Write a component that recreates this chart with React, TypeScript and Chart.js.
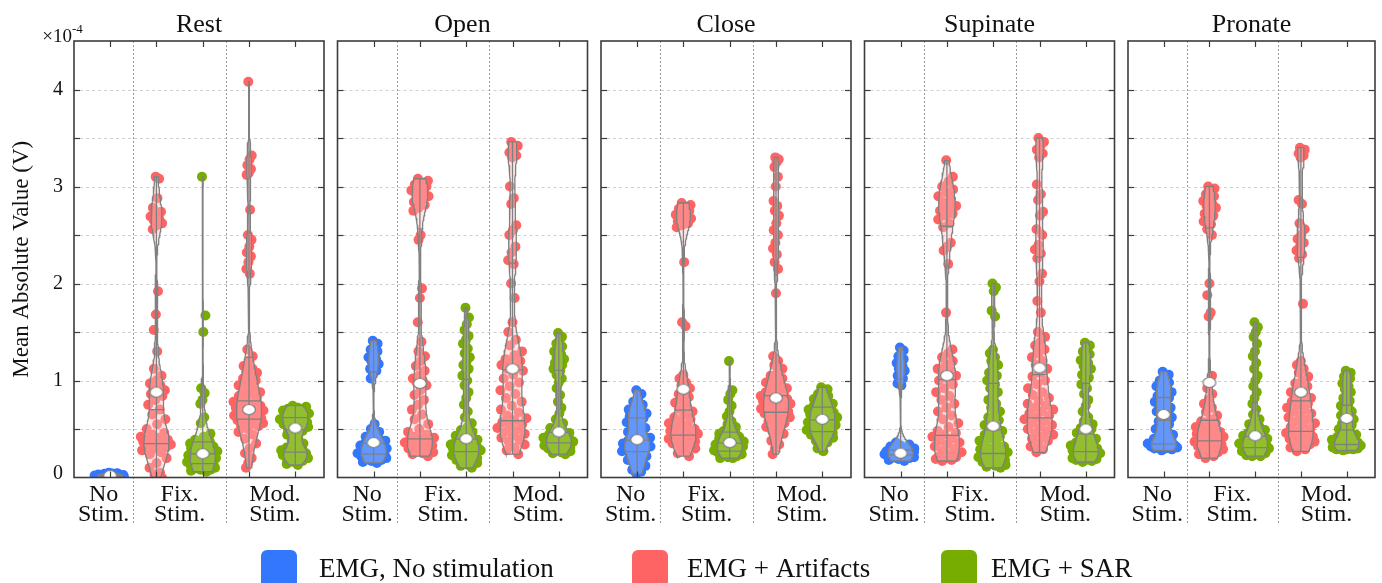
import React, { useEffect, useRef } from 'react';
import { Chart, registerables } from 'chart.js';

Chart.register(...registerables);

// ---------------- data (Mean Absolute Value, in units of 1e-4 V) ----------------
const gestures = ['Rest', 'Open', 'Close', 'Supinate', 'Pronate'];
const conditionLabels = [['No', 'Stim.'], ['Fix.', 'Stim.'], ['Mod.', 'Stim.']];
const seriesLabels = ['EMG, No stimulation', 'EMG + Artifacts', 'EMG + SAR'];
const yTickValues = [0, 1, 2, 3, 4];
const yTickLabels = ['0', '1', '2', '3', '4'];
const groupPositions = [1, 2, 3, 4, 5];
const groupSeries = [0, 1, 2, 1, 2];

const restNoStim = [0.05, 0.045, 0.04, 0.038, 0.035, 0.033, 0.03, 0.03, 0.028, 0.026, 0.025, 0.024, 0.022, 0.021, 0.02, 0.02, 0.019, 0.018, 0.016, 0.015, 0.014, 0.012, 0.011, 0.01, 0.009, 0.008, 0.006, 0.005, 0.003, 0.001];
const restFixArtifacts = [3.1, 3.08, 2.88, 2.78, 2.74, 2.71, 2.69, 2.67, 2.65, 2.62, 2.6, 2.56, 1.92, 1.68, 1.52, 1.3, 1.12, 1.05, 1.0, 0.97, 0.95, 0.92, 0.9, 0.88, 0.86, 0.84, 0.8, 0.75, 0.7, 0.65, 0.6, 0.55, 0.5, 0.46, 0.44, 0.42, 0.41, 0.4, 0.39, 0.38, 0.37, 0.36, 0.35, 0.34, 0.33, 0.32, 0.31, 0.3, 0.28, 0.26, 0.24, 0.2, 0.15, 0.1, 0.05, 0.03, 0.0];
const restFixSAR = [3.1, 1.67, 1.5, 0.92, 0.87, 0.8, 0.76, 0.62, 0.56, 0.45, 0.42, 0.39, 0.37, 0.36, 0.35, 0.34, 0.33, 0.32, 0.31, 0.3, 0.29, 0.28, 0.27, 0.26, 0.25, 0.24, 0.24, 0.23, 0.22, 0.21, 0.2, 0.19, 0.18, 0.17, 0.16, 0.16, 0.15, 0.14, 0.14, 0.13, 0.12, 0.12, 0.11, 0.1, 0.1, 0.09, 0.08, 0.08, 0.07, 0.06];
const restModArtifacts = [4.08, 3.32, 3.28, 3.22, 3.18, 3.14, 3.12, 2.76, 2.5, 2.45, 2.38, 2.32, 2.28, 2.22, 2.15, 2.1, 1.32, 1.25, 1.2, 1.15, 1.12, 1.1, 1.08, 1.05, 1.02, 1.0, 0.98, 0.95, 0.92, 0.9, 0.88, 0.86, 0.84, 0.82, 0.8, 0.78, 0.76, 0.75, 0.74, 0.73, 0.72, 0.71, 0.7, 0.69, 0.68, 0.67, 0.66, 0.65, 0.64, 0.63, 0.62, 0.61, 0.6, 0.59, 0.58, 0.57, 0.56, 0.55, 0.54, 0.53, 0.5, 0.47, 0.44, 0.4, 0.35, 0.3, 0.25, 0.2, 0.15, 0.1];
const restModSAR = [0.74, 0.73, 0.72, 0.71, 0.7, 0.7, 0.69, 0.68, 0.67, 0.66, 0.65, 0.64, 0.62, 0.61, 0.6, 0.59, 0.58, 0.57, 0.56, 0.55, 0.54, 0.53, 0.52, 0.51, 0.5, 0.48, 0.46, 0.44, 0.41, 0.38, 0.35, 0.33, 0.31, 0.3, 0.29, 0.28, 0.27, 0.26, 0.25, 0.24, 0.23, 0.22, 0.21, 0.2, 0.19, 0.18, 0.17, 0.16, 0.14, 0.13];
const restMarkers = [0.02, 0.88, 0.245, 0.7, 0.51];

const openNoStim = [1.41, 1.38, 1.35, 1.32, 1.3, 1.27, 1.24, 1.22, 1.2, 1.17, 1.14, 1.12, 1.1, 1.06, 1.02, 0.55, 0.5, 0.47, 0.44, 0.42, 0.4, 0.39, 0.38, 0.37, 0.36, 0.35, 0.34, 0.33, 0.32, 0.31, 0.3, 0.29, 0.28, 0.27, 0.26, 0.25, 0.24, 0.24, 0.23, 0.22, 0.22, 0.21, 0.2, 0.2, 0.19, 0.18, 0.18, 0.17, 0.16, 0.15];
const openFixArtifacts = [3.08, 3.06, 3.04, 3.02, 3.0, 2.98, 2.96, 2.94, 2.92, 2.9, 2.87, 2.84, 2.81, 2.78, 2.75, 2.5, 2.45, 1.95, 1.85, 1.6, 1.4, 1.3, 1.25, 1.2, 1.15, 1.1, 1.05, 1.02, 1.0, 0.98, 0.95, 0.9, 0.85, 0.8, 0.75, 0.7, 0.65, 0.6, 0.55, 0.5, 0.47, 0.44, 0.42, 0.41, 0.4, 0.39, 0.38, 0.37, 0.36, 0.35, 0.34, 0.33, 0.32, 0.3, 0.29, 0.28, 0.26, 0.25, 0.24, 0.22];
const openFixSAR = [1.75, 1.65, 1.58, 1.52, 1.46, 1.42, 1.38, 1.33, 1.28, 1.24, 1.2, 1.16, 1.12, 1.08, 1.05, 1.0, 0.95, 0.88, 0.82, 0.75, 0.68, 0.62, 0.56, 0.52, 0.49, 0.47, 0.45, 0.43, 0.42, 0.4, 0.39, 0.38, 0.37, 0.36, 0.35, 0.34, 0.33, 0.32, 0.31, 0.3, 0.3, 0.29, 0.28, 0.28, 0.27, 0.26, 0.25, 0.24, 0.23, 0.22, 0.21, 0.2, 0.19, 0.18, 0.17, 0.16, 0.15, 0.13, 0.12, 0.1];
const openModArtifacts = [3.46, 3.42, 3.38, 3.35, 3.32, 3.3, 3.0, 2.88, 2.82, 2.6, 2.55, 2.5, 2.38, 2.32, 2.24, 2.2, 2.0, 1.85, 1.6, 1.5, 1.42, 1.36, 1.3, 1.26, 1.22, 1.2, 1.18, 1.16, 1.14, 1.12, 1.1, 1.06, 1.02, 0.98, 0.94, 0.9, 0.86, 0.82, 0.78, 0.74, 0.7, 0.67, 0.64, 0.61, 0.59, 0.57, 0.55, 0.53, 0.51, 0.49, 0.47, 0.45, 0.43, 0.41, 0.39, 0.37, 0.34, 0.31, 0.28, 0.24];
const openModSAR = [1.49, 1.45, 1.42, 1.38, 1.35, 1.32, 1.3, 1.27, 1.24, 1.22, 1.2, 1.18, 1.16, 1.14, 1.12, 1.1, 1.06, 1.02, 0.98, 0.92, 0.85, 0.78, 0.72, 0.66, 0.6, 0.56, 0.53, 0.51, 0.49, 0.47, 0.46, 0.45, 0.44, 0.43, 0.42, 0.41, 0.41, 0.4, 0.39, 0.39, 0.38, 0.38, 0.37, 0.37, 0.36, 0.35, 0.34, 0.34, 0.33, 0.32, 0.32, 0.31, 0.3, 0.3, 0.29, 0.28, 0.27, 0.26, 0.25, 0.24];
const openMarkers = [0.36, 0.97, 0.4, 1.12, 0.47];

const closeNoStim = [0.9, 0.86, 0.82, 0.78, 0.75, 0.72, 0.7, 0.68, 0.67, 0.66, 0.65, 0.63, 0.61, 0.59, 0.57, 0.55, 0.53, 0.51, 0.49, 0.47, 0.45, 0.43, 0.41, 0.39, 0.38, 0.37, 0.36, 0.35, 0.34, 0.33, 0.32, 0.31, 0.3, 0.29, 0.28, 0.27, 0.26, 0.24, 0.22, 0.2, 0.18, 0.16, 0.14, 0.12, 0.1, 0.08, 0.06, 0.04];
const closeFixArtifacts = [2.83, 2.81, 2.79, 2.77, 2.75, 2.73, 2.71, 2.7, 2.68, 2.67, 2.65, 2.64, 2.62, 2.6, 2.58, 2.22, 1.6, 1.56, 1.06, 1.02, 0.98, 0.95, 0.92, 0.89, 0.86, 0.83, 0.8, 0.77, 0.74, 0.71, 0.68, 0.65, 0.62, 0.6, 0.58, 0.56, 0.54, 0.52, 0.5, 0.49, 0.48, 0.47, 0.46, 0.45, 0.44, 0.43, 0.42, 0.41, 0.4, 0.39, 0.38, 0.37, 0.36, 0.35, 0.34, 0.32, 0.3, 0.28, 0.25, 0.22];
const closeFixSAR = [1.2, 0.9, 0.86, 0.8, 0.74, 0.68, 0.63, 0.58, 0.55, 0.52, 0.5, 0.48, 0.47, 0.46, 0.45, 0.44, 0.43, 0.42, 0.41, 0.4, 0.39, 0.38, 0.37, 0.36, 0.36, 0.35, 0.34, 0.34, 0.33, 0.32, 0.32, 0.31, 0.3, 0.3, 0.29, 0.28, 0.28, 0.27, 0.27, 0.26, 0.26, 0.25, 0.25, 0.24, 0.24, 0.23, 0.22, 0.21, 0.2, 0.2];
const closeModArtifacts = [3.3, 3.28, 3.25, 3.2, 3.1, 3.0, 2.85, 2.8, 2.75, 2.7, 2.62, 2.55, 2.5, 2.42, 2.36, 2.3, 2.22, 2.15, 1.9, 1.25, 1.2, 1.16, 1.12, 1.08, 1.05, 1.02, 1.0, 0.98, 0.96, 0.94, 0.92, 0.9, 0.88, 0.86, 0.85, 0.84, 0.83, 0.82, 0.81, 0.8, 0.79, 0.78, 0.77, 0.76, 0.75, 0.74, 0.73, 0.72, 0.71, 0.7, 0.69, 0.68, 0.67, 0.66, 0.65, 0.64, 0.62, 0.6, 0.58, 0.56, 0.54, 0.52, 0.5, 0.48, 0.45, 0.42, 0.38, 0.34, 0.3, 0.24];
const closeModSAR = [0.93, 0.91, 0.89, 0.86, 0.84, 0.82, 0.81, 0.79, 0.77, 0.76, 0.75, 0.74, 0.73, 0.71, 0.7, 0.69, 0.68, 0.67, 0.66, 0.65, 0.64, 0.63, 0.62, 0.61, 0.6, 0.59, 0.58, 0.57, 0.56, 0.55, 0.54, 0.53, 0.52, 0.51, 0.5, 0.49, 0.48, 0.47, 0.46, 0.45, 0.44, 0.43, 0.42, 0.41, 0.4, 0.38, 0.36, 0.33, 0.3, 0.27];
const closeMarkers = [0.39, 0.91, 0.36, 0.82, 0.6];

const supinateNoStim = [1.34, 1.31, 1.28, 1.25, 1.22, 1.2, 1.18, 1.15, 1.12, 1.1, 1.08, 1.05, 1.02, 1.0, 0.97, 0.95, 0.36, 0.34, 0.33, 0.32, 0.31, 0.3, 0.3, 0.29, 0.29, 0.28, 0.28, 0.27, 0.27, 0.26, 0.26, 0.25, 0.25, 0.25, 0.24, 0.24, 0.24, 0.23, 0.23, 0.23, 0.22, 0.22, 0.22, 0.21, 0.21, 0.2, 0.2, 0.19, 0.18, 0.17];
const supinateFixArtifacts = [3.27, 3.1, 3.05, 3.0, 2.97, 2.94, 2.9, 2.87, 2.84, 2.8, 2.78, 2.75, 2.72, 2.7, 2.66, 2.62, 2.58, 2.42, 2.38, 2.34, 2.2, 1.7, 1.32, 1.28, 1.24, 1.2, 1.16, 1.12, 1.1, 1.08, 1.05, 1.02, 1.0, 0.96, 0.92, 0.88, 0.84, 0.8, 0.76, 0.72, 0.68, 0.64, 0.6, 0.56, 0.52, 0.48, 0.46, 0.44, 0.42, 0.4, 0.38, 0.36, 0.34, 0.32, 0.3, 0.28, 0.26, 0.24, 0.22, 0.21, 0.2, 0.19, 0.18, 0.17];
const supinateFixSAR = [2.0, 1.96, 1.92, 1.72, 1.66, 1.32, 1.28, 1.24, 1.2, 1.16, 1.12, 1.08, 1.05, 1.02, 1.0, 0.96, 0.92, 0.88, 0.84, 0.8, 0.76, 0.72, 0.68, 0.65, 0.62, 0.59, 0.56, 0.54, 0.52, 0.5, 0.48, 0.46, 0.44, 0.42, 0.4, 0.38, 0.36, 0.34, 0.32, 0.3, 0.29, 0.28, 0.27, 0.26, 0.25, 0.24, 0.23, 0.22, 0.21, 0.2, 0.19, 0.18, 0.17, 0.16, 0.15, 0.14, 0.13, 0.12, 0.11, 0.1];
const supinateModArtifacts = [3.5, 3.46, 3.42, 3.38, 3.34, 3.3, 3.02, 2.92, 2.86, 2.74, 2.7, 2.56, 2.5, 2.4, 2.35, 2.31, 2.26, 2.1, 2.02, 1.82, 1.7, 1.5, 1.45, 1.4, 1.36, 1.32, 1.28, 1.24, 1.2, 1.16, 1.12, 1.08, 1.04, 1.0, 0.96, 0.92, 0.88, 0.85, 0.82, 0.79, 0.76, 0.74, 0.72, 0.7, 0.68, 0.66, 0.64, 0.62, 0.6, 0.58, 0.56, 0.54, 0.52, 0.5, 0.48, 0.46, 0.44, 0.42, 0.4, 0.38, 0.35, 0.32, 0.29, 0.26];
const supinateModSAR = [1.39, 1.36, 1.33, 1.3, 1.27, 1.24, 1.21, 1.18, 1.15, 1.12, 1.09, 1.06, 1.03, 1.0, 0.96, 0.92, 0.86, 0.8, 0.74, 0.68, 0.62, 0.58, 0.55, 0.53, 0.51, 0.5, 0.48, 0.46, 0.44, 0.42, 0.4, 0.38, 0.36, 0.35, 0.34, 0.33, 0.32, 0.31, 0.3, 0.29, 0.28, 0.27, 0.26, 0.25, 0.24, 0.23, 0.22, 0.21, 0.2, 0.2, 0.19, 0.19, 0.18, 0.18, 0.17, 0.16];
const supinateMarkers = [0.25, 1.05, 0.53, 1.13, 0.5];

const pronateNoStim = [1.09, 1.06, 1.03, 1.0, 0.98, 0.96, 0.94, 0.92, 0.9, 0.88, 0.86, 0.84, 0.82, 0.8, 0.78, 0.76, 0.74, 0.72, 0.7, 0.68, 0.66, 0.64, 0.62, 0.6, 0.58, 0.55, 0.52, 0.5, 0.48, 0.46, 0.44, 0.42, 0.4, 0.38, 0.36, 0.35, 0.34, 0.34, 0.33, 0.33, 0.32, 0.32, 0.31, 0.31, 0.3, 0.3, 0.29, 0.28];
const pronateFixArtifacts = [3.0, 2.98, 2.95, 2.92, 2.9, 2.88, 2.85, 2.82, 2.8, 2.78, 2.75, 2.72, 2.7, 2.67, 2.64, 2.61, 2.56, 2.5, 2.0, 1.88, 1.7, 1.66, 1.05, 0.98, 0.92, 0.86, 0.8, 0.76, 0.72, 0.68, 0.64, 0.6, 0.58, 0.56, 0.54, 0.52, 0.5, 0.48, 0.47, 0.46, 0.45, 0.44, 0.43, 0.42, 0.41, 0.4, 0.39, 0.38, 0.37, 0.36, 0.35, 0.34, 0.33, 0.32, 0.31, 0.3, 0.29, 0.28, 0.27, 0.26, 0.25, 0.24, 0.22, 0.2];
const pronateFixSAR = [1.6, 1.55, 1.5, 1.45, 1.38, 1.3, 1.25, 1.18, 1.12, 1.05, 1.0, 0.94, 0.88, 0.82, 0.76, 0.7, 0.65, 0.6, 0.57, 0.55, 0.53, 0.51, 0.49, 0.47, 0.46, 0.45, 0.44, 0.43, 0.42, 0.41, 0.4, 0.39, 0.38, 0.37, 0.36, 0.35, 0.34, 0.33, 0.33, 0.32, 0.32, 0.31, 0.3, 0.3, 0.29, 0.29, 0.28, 0.28, 0.27, 0.27, 0.26, 0.25, 0.24, 0.23, 0.22, 0.22];
const pronateModArtifacts = [3.4, 3.38, 3.36, 3.34, 3.32, 3.3, 2.86, 2.82, 2.62, 2.56, 2.5, 2.46, 2.42, 2.38, 2.34, 2.3, 2.26, 1.79, 1.2, 1.16, 1.12, 1.08, 1.04, 1.0, 0.97, 0.94, 0.91, 0.88, 0.86, 0.84, 0.82, 0.8, 0.78, 0.76, 0.74, 0.72, 0.7, 0.68, 0.66, 0.64, 0.62, 0.6, 0.58, 0.56, 0.54, 0.52, 0.5, 0.48, 0.46, 0.44, 0.43, 0.42, 0.41, 0.4, 0.39, 0.38, 0.37, 0.36, 0.35, 0.34, 0.33, 0.31, 0.29, 0.27];
const pronateModSAR = [1.1, 1.08, 1.06, 1.04, 1.02, 1.0, 0.97, 0.94, 0.91, 0.88, 0.85, 0.82, 0.79, 0.76, 0.74, 0.72, 0.7, 0.68, 0.66, 0.64, 0.62, 0.61, 0.6, 0.58, 0.56, 0.54, 0.52, 0.5, 0.48, 0.46, 0.44, 0.43, 0.42, 0.41, 0.4, 0.39, 0.38, 0.37, 0.36, 0.35, 0.35, 0.34, 0.34, 0.33, 0.33, 0.32, 0.32, 0.31, 0.31, 0.3, 0.3, 0.3, 0.29, 0.29, 0.29, 0.28];
const pronateMarkers = [0.65, 0.98, 0.43, 0.88, 0.61];

const panelGroups = [
  [restNoStim, restFixArtifacts, restFixSAR, restModArtifacts, restModSAR],
  [openNoStim, openFixArtifacts, openFixSAR, openModArtifacts, openModSAR],
  [closeNoStim, closeFixArtifacts, closeFixSAR, closeModArtifacts, closeModSAR],
  [supinateNoStim, supinateFixArtifacts, supinateFixSAR, supinateModArtifacts, supinateModSAR],
  [pronateNoStim, pronateFixArtifacts, pronateFixSAR, pronateModArtifacts, pronateModSAR],
];
const panelMarkers = [restMarkers, openMarkers, closeMarkers, supinateMarkers, pronateMarkers];

// ---------------- layout & style ----------------
const W = 1382;
const H = 583;
const PANEL_LEFT0 = 74;
const PANEL_STEP = 263.5;
const PANEL_W = 250;
const PLOT_TOP = 41;
const PLOT_BOTTOM = 477.5;
const X_MIN = 0.22;
const X_MAX = 5.62;
const Y_MIN = 0;
const Y_MAX = 4.5;
const GRID_STEP = 0.5;
const SEPARATORS = [1.5, 3.5];
const LABEL_CENTERS = [0.86, 2.5, 4.56];
const SEP_BOTTOM = 525;
const FONT = '"Liberation Serif", "Times New Roman", serif';
const SERIES_COLORS = ['#3377FF', '#FF6464', '#77AC00'];
const VIOLIN_FILLS = ['rgba(170,200,255,0.4)', 'rgba(255,190,190,0.4)', 'rgba(205,232,150,0.32)'];
const LINE_GRAY = '#808080';
const FRAME_COLOR = '#3c3c3c';
const GRID_COLOR = '#cfcfcf';
const SEP_COLOR = '#9a9a9a';
const VIOLIN_HALF = 0.27;
const BW_COEF = 0.085;
const POINT_SPREAD = 1.3;
const POINT_MIN_SPREAD = 0.06;
const POINT_RADIUS = 5;
const TICK_LEN = 6;
const LEGEND_SQUARES = [261, 632, 941];
const LEGEND_TEXT_X = [319, 687, 991];

// ---------------- helpers ----------------
function quantile(sorted: number[], q: number) {
  const pos = (sorted.length - 1) * q;
  const lo = Math.floor(pos);
  const hi = Math.ceil(pos);
  return sorted[lo] + (sorted[hi] - sorted[lo]) * (pos - lo);
}

function makeDensity(values: number[]) {
  const min = Math.min(...values);
  const max = Math.max(...values);
  const range = Math.max(max - min, 1e-3);
  const h = BW_COEF * Math.pow(range, 0.6);
  const raw = (y: number) => {
    let s = 0;
    for (const v of values) {
      const z = (y - v) / h;
      s += Math.exp(-0.5 * z * z);
    }
    return s;
  };
  const N = 120;
  const ys: number[] = [];
  for (let j = 0; j <= N; j++) ys.push(min + (range * j) / N);
  let maxD = 0;
  ys.forEach((y) => (maxD = Math.max(maxD, raw(y))));
  const half = (y: number) => (VIOLIN_HALF * raw(y)) / maxD;
  return { min, max, ys, half };
}

function jitter(k: number) {
  return ((k * 0.6180339887 + 0.37) % 1) * 2 - 1;
}

function makeMarkerImage() {
  const c = document.createElement('canvas');
  c.width = 16;
  c.height = 13;
  const ctx = c.getContext('2d')!;
  ctx.beginPath();
  ctx.ellipse(8, 6.5, 6.4, 5, 0, 0, Math.PI * 2);
  ctx.fillStyle = '#ffffff';
  ctx.fill();
  ctx.lineWidth = 1.2;
  ctx.strokeStyle = LINE_GRAY;
  ctx.stroke();
  return c;
}

function line(ctx: CanvasRenderingContext2D, x1: number, y1: number, x2: number, y2: number) {
  ctx.beginPath();
  ctx.moveTo(x1, y1);
  ctx.lineTo(x2, y2);
  ctx.stroke();
}

function buildDatasets(panel: number, markerImg: HTMLCanvasElement) {
  const datasets: any[] = [];
  panelGroups[panel].forEach((values, g) => {
    const pos = groupPositions[g];
    const s = groupSeries[g];
    const dens = makeDensity(values);
    const sorted = [...values].sort((a, b) => a - b);

    datasets.push({
      type: 'scatter',
      data: values.map((v, k) => ({
        x: pos + jitter(k) * Math.max(dens.half(v) * POINT_SPREAD, POINT_MIN_SPREAD),
        y: v,
      })),
      pointRadius: POINT_RADIUS,
      pointHoverRadius: POINT_RADIUS,
      backgroundColor: SERIES_COLORS[s],
      borderWidth: 0,
      order: 3,
    });

    const poly: { x: number; y: number }[] = [];
    dens.ys.forEach((y) => poly.push({ x: pos + dens.half(y), y }));
    [...dens.ys].reverse().forEach((y) => poly.push({ x: pos - dens.half(y), y }));
    poly.push(poly[0]);
    datasets.push({
      type: 'line',
      data: poly,
      showLine: true,
      fill: 'shape',
      backgroundColor: VIOLIN_FILLS[s],
      borderColor: LINE_GRAY,
      borderWidth: 1.3,
      pointRadius: 0,
      tension: 0,
      order: 2,
    });

    datasets.push({
      type: 'line',
      data: [{ x: pos, y: dens.min }, { x: pos, y: dens.max }],
      showLine: true,
      borderColor: LINE_GRAY,
      borderWidth: 1.3,
      pointRadius: 0,
      fill: false,
      order: 1,
    });
    [0.25, 0.5, 0.75].forEach((q) => {
      const qv = quantile(sorted, q);
      const hw = dens.half(qv);
      datasets.push({
        type: 'line',
        data: [{ x: pos - hw, y: qv }, { x: pos + hw, y: qv }],
        showLine: true,
        borderColor: LINE_GRAY,
        borderWidth: 1.3,
        pointRadius: 0,
        fill: false,
        order: 1,
      });
    });

    datasets.push({
      type: 'scatter',
      data: [{ x: pos, y: panelMarkers[panel][g] }],
      pointStyle: markerImg,
      pointRadius: 6,
      order: 0,
    });
  });
  return datasets;
}

function decorPlugin(panel: number) {
  return {
    id: 'decor' + panel,
    beforeDatasetsDraw(chart: any) {
      const { ctx, chartArea: a, scales } = chart;
      const x = scales.x;
      const y = scales.y;
      ctx.save();
      ctx.lineWidth = 1;
      ctx.strokeStyle = GRID_COLOR;
      ctx.setLineDash([3, 3]);
      for (let v = Y_MIN + GRID_STEP; v < Y_MAX - 1e-9; v += GRID_STEP) {
        const py = Math.round(y.getPixelForValue(v)) + 0.5;
        line(ctx, a.left, py, a.right, py);
      }
      ctx.strokeStyle = SEP_COLOR;
      ctx.setLineDash([2, 2]);
      SEPARATORS.forEach((sv) => {
        const px = Math.round(x.getPixelForValue(sv)) + 0.5;
        line(ctx, px, a.top, px, SEP_BOTTOM);
      });
      ctx.restore();
    },
    afterDatasetsDraw(chart: any) {
      const { ctx, chartArea: a, scales } = chart;
      const x = scales.x;
      const y = scales.y;
      ctx.save();
      ctx.setLineDash([]);
      ctx.strokeStyle = FRAME_COLOR;
      ctx.lineWidth = 1.2;
      for (let v = Y_MIN + GRID_STEP; v < Y_MAX - 1e-9; v += GRID_STEP) {
        const py = Math.round(y.getPixelForValue(v)) + 0.5;
        line(ctx, a.left, py, a.left + TICK_LEN, py);
        line(ctx, a.right - TICK_LEN, py, a.right, py);
      }
      groupPositions.forEach((p) => {
        const px = Math.round(x.getPixelForValue(p)) + 0.5;
        line(ctx, px, a.top, px, a.top + TICK_LEN);
        line(ctx, px, a.bottom - TICK_LEN, px, a.bottom);
      });
      ctx.lineWidth = 1.6;
      ctx.strokeRect(a.left, a.top, a.right - a.left, a.bottom - a.top);

      // title
      ctx.fillStyle = '#111';
      ctx.font = `26px ${FONT}`;
      ctx.textAlign = 'center';
      ctx.textBaseline = 'alphabetic';
      ctx.fillText(gestures[panel], (a.left + a.right) / 2, 32);

      // category labels
      ctx.font = `24px ${FONT}`;
      conditionLabels.forEach((lines, c) => {
        const px = x.getPixelForValue(LABEL_CENTERS[c]);
        ctx.fillText(lines[0], px, 501);
        ctx.fillText(lines[1], px, 521);
      });

      if (panel === 0) {
        ctx.font = `20px ${FONT}`;
        ctx.textAlign = 'right';
        ctx.textBaseline = 'middle';
        yTickValues.forEach((v, k) => {
          const py = y.getPixelForValue(v);
          ctx.fillText(yTickLabels[k], a.left - 11, v === 0 ? py - 4 : py);
        });
        ctx.textBaseline = 'alphabetic';
        ctx.font = `19px ${FONT}`;
        ctx.fillText('\u00d710', 72, 42);
        ctx.textAlign = 'left';
        ctx.font = `13px ${FONT}`;
        ctx.fillText('-4', 72, 33);

        ctx.save();
        ctx.translate(22, (a.top + a.bottom) / 2);
        ctx.rotate(-Math.PI / 2);
        ctx.textAlign = 'center';
        ctx.textBaseline = 'middle';
        ctx.font = `23px ${FONT}`;
        ctx.fillText('Mean Absolute Value (V)', 0, 0);
        ctx.restore();

        // legend
        seriesLabels.forEach((lbl, s) => {
          ctx.fillStyle = SERIES_COLORS[s];
          ctx.beginPath();
          (ctx as any).roundRect(LEGEND_SQUARES[s], 550, 36, 38, 6);
          ctx.fill();
          ctx.fillStyle = '#111';
          ctx.font = `27px ${FONT}`;
          ctx.textAlign = 'left';
          ctx.textBaseline = 'alphabetic';
          ctx.fillText(lbl, LEGEND_TEXT_X[s], 577);
        });
      }
      ctx.restore();
    },
  };
}

function buildConfig(panel: number, markerImg: HTMLCanvasElement): any {
  const left = PANEL_LEFT0 + PANEL_STEP * panel;
  return {
    type: 'scatter',
    data: { datasets: buildDatasets(panel, markerImg) },
    options: {
      animation: false,
      responsive: false,
      maintainAspectRatio: false,
      devicePixelRatio: 1,
      events: [],
      layout: {
        padding: { left, right: W - (left + PANEL_W), top: PLOT_TOP, bottom: H - PLOT_BOTTOM },
      },
      scales: {
        x: { type: 'linear', min: X_MIN, max: X_MAX, display: false },
        y: { type: 'linear', min: Y_MIN, max: Y_MAX, display: false },
      },
      plugins: { legend: { display: false }, tooltip: { enabled: false }, title: { display: false } },
    },
    plugins: [decorPlugin(panel)],
  };
}

export default function App() {
  const refs = useRef<(HTMLCanvasElement | null)[]>([]);
  useEffect(() => {
    const markerImg = makeMarkerImage();
    const charts = gestures.map((_, i) => new Chart(refs.current[i] as HTMLCanvasElement, buildConfig(i, markerImg)));
    return () => charts.forEach((c) => c.destroy());
  }, []);
  return (
    <div style={{ position: 'absolute', left: 0, top: 0, width: W, height: H, background: '#ffffff', overflow: 'hidden' }}>
      {gestures.map((g, i) => (
        <canvas
          key={g}
          ref={(el) => {
            refs.current[i] = el;
          }}
          width={W}
          height={H}
          style={{ position: 'absolute', left: 0, top: 0, width: W, height: H }}
        />
      ))}
    </div>
  );
}
